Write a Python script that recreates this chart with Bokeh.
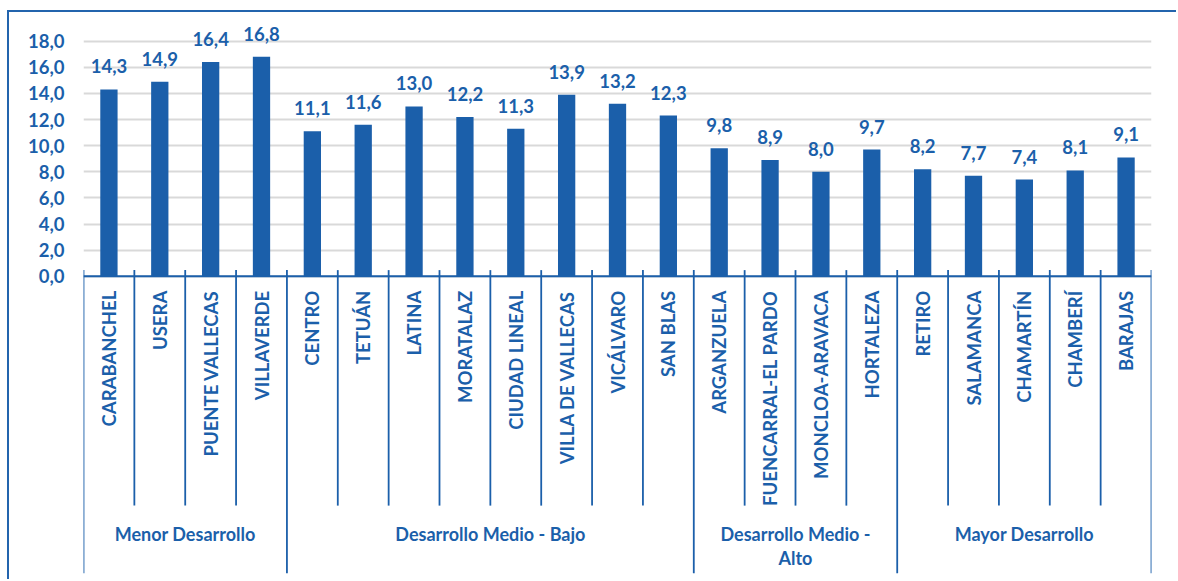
import math
from bokeh.plotting import figure
from bokeh.models import FixedTicker, ColumnDataSource, Range1d
from bokeh.core.properties import value
from bokeh.embed import file_html
from bokeh.resources import INLINE

districts = ["CARABANCHEL", "USERA", "PUENTE VALLECAS", "VILLAVERDE",
             "CENTRO", "TETUÁN", "LATINA", "MORATALAZ", "CIUDAD LINEAL",
             "VILLA DE VALLECAS", "VICÁLVARO", "SAN BLAS",
             "ARGANZUELA", "FUENCARRAL-EL PARDO", "MONCLOA-ARAVACA", "HORTALEZA",
             "RETIRO", "SALAMANCA", "CHAMARTÍN", "CHAMBERÍ", "BARAJAS"]
values = [14.3, 14.9, 16.4, 16.8,
          11.1, 11.6, 13.0, 12.2, 11.3, 13.9, 13.2, 12.3,
          9.8, 8.9, 8.0, 9.7,
          8.2, 7.7, 7.4, 8.1, 9.1]
groups = ["Menor Desarrollo", "Desarrollo Medio - Bajo", "Desarrollo Medio -\nAlto", "Mayor Desarrollo"]
group_sizes = [4, 8, 4, 5]
y_ticks = [0, 2, 4, 6, 8, 10, 12, 14, 16, 18]

BLUE = "#1b5faa"
FONT = "Lato"

n = len(districts)
xs = [i + 0.5 for i in range(n)]

p = figure(width=1169, height=569, output_backend="svg", toolbar_location=None,
           x_range=Range1d(0, n), y_range=Range1d(-23.14, 20.04),
           min_border_left=74, min_border_right=27, min_border_top=2, min_border_bottom=3,
           styles={"border-top": "2px solid #2364ad", "border-left": "2px solid #2364ad",
                   "margin-top": "10px", "margin-left": "7px"})
p.outline_line_color = None
p.xaxis.visible = False
p.xgrid.visible = False

p.ygrid.ticker = FixedTicker(ticks=y_ticks)
p.ygrid.grid_line_color = "#d9d9d9"
p.ygrid.grid_line_width = 2

yax = p.yaxis[0]
yax.ticker = FixedTicker(ticks=y_ticks)
yax.major_label_overrides = {t: f"{t:.1f}".replace(".", ",") for t in y_ticks}
yax.axis_line_color = None
yax.major_tick_line_color = None
yax.minor_tick_line_color = None
yax.major_tick_out = 0
yax.major_tick_in = 0
yax.major_label_standoff = 19
yax.major_label_text_font = FONT
yax.major_label_text_font_style = "bold"
yax.major_label_text_font_size = "18.5px"
yax.major_label_text_color = BLUE

src = ColumnDataSource(dict(x=xs, top=values, name=districts,
                            lab=[f"{v:.1f}".replace(".", ",") for v in values]))
p.vbar(x="x", top="top", bottom=0, width=0.34, source=src, fill_color=BLUE, line_color=None)

p.text(x="x", y="top", text="lab", source=src, text_align="center", text_baseline="bottom",
       y_offset=-16, text_font=value(FONT), text_font_style="bold", text_font_size="18.5px",
       text_color=BLUE)

# axis line
p.segment(x0=[0], y0=[0], x1=[n], y1=[0], line_color=BLUE, line_width=1.8)

# category separators
bounds = [0]
for s in group_sizes:
    bounds.append(bounds[-1] + s)
minor = [k for k in range(n + 1) if k not in bounds]
p.segment(x0=minor, y0=[0.47] * len(minor), x1=minor, y1=[-17.56] * len(minor),
          line_color=BLUE, line_width=1.8)
p.segment(x0=bounds, y0=[0.47] * len(bounds), x1=bounds, y1=[-22.74] * len(bounds),
          line_color=BLUE, line_width=1.8)

# district labels (rotated)
p.text(x="x", y=-1.11, text="name", source=src, angle=math.pi / 2, text_align="right",
       text_baseline="middle", text_font=value(FONT), text_font_style="bold",
       text_font_size="18.5px", text_color=BLUE)

# group labels
gx = [(bounds[i] + bounds[i + 1]) / 2 for i in range(len(groups))]
p.text(x=gx, y=[-18.86] * len(groups), text=groups, text_align="center", text_baseline="top",
       text_line_height=1.1, text_font=value(FONT), text_font_style="bold",
       text_font_size="18px", text_color=BLUE)

open("out.html", "w").write(file_html(p, INLINE))
